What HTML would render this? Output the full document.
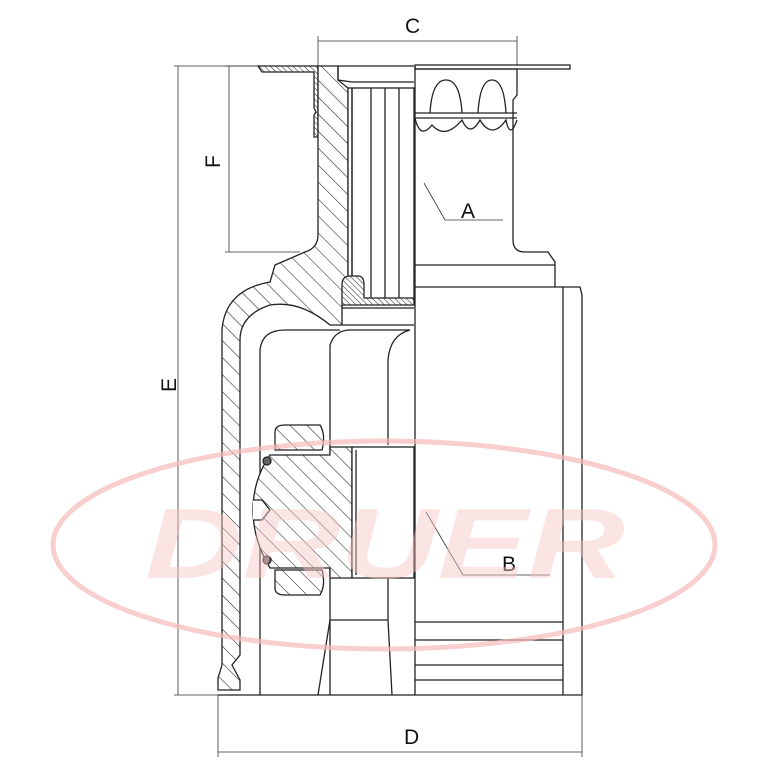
<!DOCTYPE html>
<html><head><meta charset="utf-8"><style>html,body{margin:0;padding:0;background:#fff}svg{display:block}</style></head>
<body>
<svg width="768" height="768" viewBox="0 0 768 768" xmlns="http://www.w3.org/2000/svg">
<defs>
<pattern id="h" patternUnits="userSpaceOnUse" width="12" height="12" patternTransform="rotate(-45)">
<rect width="12" height="12" fill="#fff"/><line x1="0" y1="0" x2="0" y2="12" stroke="#222" stroke-width="1.1"/></pattern>
<pattern id="hs" patternUnits="userSpaceOnUse" width="4" height="4" patternTransform="rotate(-45)">
<rect width="4" height="4" fill="#fff"/><line x1="0" y1="0" x2="0" y2="4" stroke="#222" stroke-width="1"/></pattern>
</defs>
<g fill="none" stroke="#222" stroke-width="1.3">
<rect x="415" y="65" width="155" height="4" fill="#fff"/>
<path d="M258 66 L318 66 L318 137 L314 137 L314 115 L316 112 L314 108 L314 72 L262 72 Z" fill="url(#hs)"/>
<path d="M318 66 L338 66 L338 80 L348 88 L348 300 L342 306 L342 325 L330 325 Q300 300 270 305 Q240 315 240 340 L240 655 L232 665 L240 680 L240 690 L218 690 L218 678 L222 665 L222 330 Q225 290 270 282 L275 265 L305 252 Q318 248 318 235 Z" fill="url(#h)"/>
<rect x="348" y="88" width="4" height="212" fill="#fff"/>
<rect x="352" y="88" width="62" height="212"/>
<line x1="371" y1="88" x2="371" y2="300"/><line x1="385" y1="88" x2="385" y2="300"/><line x1="399" y1="88" x2="399" y2="300"/>
<path d="M338 66 L338 80 L352 82 L414 82"/><line x1="338" y1="66" x2="414" y2="66"/>
<path d="M342 306 L342 285 Q342 276 350 276 L358 276 Q364 276 364 285 L364 298 L414 298 L414 305 L342 305 Z" fill="url(#hs)"/>
<line x1="342" y1="308" x2="414" y2="308"/><line x1="342" y1="325" x2="414" y2="325"/>
<line x1="415" y1="66" x2="415" y2="695"/>
<path d="M415 69 L517 69 L517 95 L513 100 L513 240 Q513 252 525 252 L548 252 L555 262 L555 287 L580 287 L582 295 L582 695"/>
<line x1="415" y1="265" x2="555" y2="265"/><line x1="415" y1="287" x2="555" y2="287"/>
<line x1="563" y1="287" x2="563" y2="695"/>
<line x1="415" y1="113" x2="517" y2="113"/><line x1="415" y1="118" x2="517" y2="118"/>
<path d="M430 113 Q432 80 446 80 Q460 80 462 113 M478 113 Q480 80 492 80 Q504 80 506 113"/>
<path d="M415 118 Q420 140 432 125 Q445 140 462 120 Q470 138 480 120 Q492 140 506 120 Q510 140 517 120"/>
<line x1="415" y1="622" x2="563" y2="622"/><line x1="415" y1="640" x2="563" y2="640"/>
<line x1="415" y1="665" x2="563" y2="665"/><line x1="415" y1="680" x2="563" y2="680"/>
<line x1="218" y1="695" x2="582" y2="695"/>
<path d="M260 695 L260 350 Q262 330 285 330 L340 330"/>
<path d="M330 695 L330 345 Q335 330 350 330 L410 330 Q390 335 388 360 L388 445"/>
<path d="M388 578 L388 620 L330 620"/>
<path d="M330 620 L318 695 M388 620 L392 695"/>
<path d="M275 432 Q275 425 285 425 L320 425 Q326 435 322 450 L275 450 Z" fill="url(#h)"/>
<path d="M275 570 L322 570 Q326 585 320 595 L285 595 Q275 595 275 588 Z" fill="url(#h)"/>
<path d="M270 455 L330 455 L330 447 L352 447 L352 578 L330 578 L330 568 L270 568 Q253 540 253 510 Q253 480 270 455 Z" fill="url(#h)"/>
<path d="M253 500 L262 500 L270 510 L262 520 L253 520" fill="#fff"/>
<circle cx="267" cy="461" r="4" fill="#666"/><circle cx="267" cy="560" r="4" fill="#666"/>
<rect x="352" y="447" width="62" height="131" fill="#fff"/>
<line x1="356" y1="450" x2="356" y2="575"/>
</g>
<g stroke="#333" stroke-width="0.8" fill="none">
<line x1="318" y1="41" x2="517" y2="41"/><line x1="318" y1="36" x2="318" y2="66"/><line x1="517" y1="36" x2="517" y2="66"/>
<line x1="229" y1="66" x2="229" y2="252"/><line x1="225" y1="66" x2="258" y2="66"/><line x1="225" y1="252" x2="300" y2="252"/>
<line x1="178" y1="66" x2="178" y2="695"/><line x1="174" y1="66" x2="258" y2="66"/><line x1="174" y1="695" x2="218" y2="695"/>
<line x1="218" y1="752" x2="582" y2="752"/><line x1="218" y1="695" x2="218" y2="757"/><line x1="582" y1="695" x2="582" y2="757"/>
<path d="M424 183 L445 220 L503 220"/><path d="M426 512 L463 575 L550 575"/>
</g>
<g font-family="Liberation Sans, sans-serif" font-size="21" fill="#111">
<text x="405" y="33">C</text>
<text x="404" y="744">D</text>
<text x="461" y="218">A</text>
<text x="502" y="571">B</text>
<text transform="translate(220,168) rotate(-90)">F</text>
<text transform="translate(176,392) rotate(-90)">E</text>
</g>
<ellipse cx="384" cy="545" rx="331" ry="104" fill="none" stroke="#f7b9b9" stroke-width="5" opacity="0.7"/>
<text x="385" y="578" text-anchor="middle" font-family="Liberation Sans, sans-serif" font-weight="bold" font-style="italic" font-size="100" fill="#f8c4c4" opacity="0.45" textLength="480" lengthAdjust="spacingAndGlyphs">DRUER</text>
</svg>
</body></html>
